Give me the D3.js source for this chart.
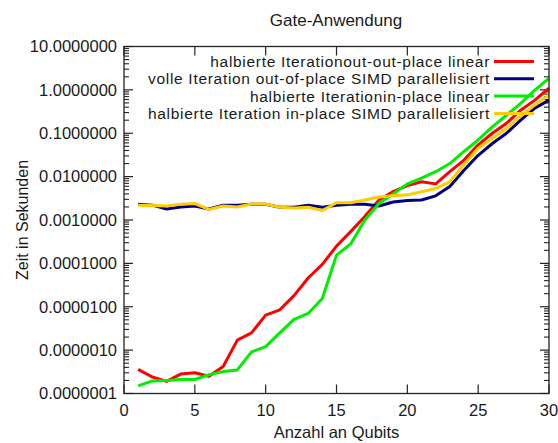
<!DOCTYPE html>
<html>
<head>
<meta charset="utf-8">
<script src="https://cdn.jsdelivr.net/npm/d3@7"></script>
<style>
  body { margin: 0; background: #fff; }
  svg text { font-family: "Liberation Sans", Arial, sans-serif; fill: #1a1a1a; }
</style>
</head>
<body>
<div id="chart"></div>
<script>
// qubit counts
const qubits = d3.range(1, 31);

// seconds per series
const halbOutLinear = [3.6e-7, 2.4e-7, 1.9e-7, 2.8e-7, 3.0e-7, 2.5e-7, 4.2e-7, 1.7e-6, 2.5e-6, 6.4e-6,
    8.5e-6, 1.8e-5, 4.6e-5, 9.5e-5, 2.5e-4, 5.4e-4, 1.2e-3, 2.9e-3, 4.5e-3, 6.2e-3,
    7.6e-3, 6.8e-3, 0.013, 0.024, 0.054, 0.10, 0.17, 0.34, 0.58, 1.09];
const volleOutSimd = [2.3e-3, 2.2e-3, 1.8e-3, 2.0e-3, 2.1e-3, 1.8e-3, 2.2e-3, 2.2e-3, 2.3e-3, 2.3e-3,
    1.96e-3, 1.96e-3, 2.2e-3, 1.96e-3, 2.2e-3, 2.3e-3, 2.3e-3, 2.1e-3, 2.6e-3, 2.8e-3,
    2.9e-3, 3.6e-3, 5.9e-3, 0.014, 0.031, 0.058, 0.10, 0.20, 0.38, 0.58];
const halbInLinear = [1.5e-7, 1.95e-7, 2.0e-7, 2.1e-7, 2.1e-7, 2.7e-7, 3.2e-7, 3.5e-7, 9.1e-7, 1.2e-6,
    2.5e-6, 5.1e-6, 7.0e-6, 1.55e-5, 1.55e-4, 2.8e-4, 1.0e-3, 2.4e-3, 4.0e-3, 6.8e-3,
    9.2e-3, 0.013, 0.020, 0.038, 0.07, 0.14, 0.26, 0.49, 0.99, 1.85];
const halbInSimd = [2.2e-3, 2.15e-3, 2.1e-3, 2.3e-3, 2.4e-3, 1.76e-3, 2.1e-3, 2.0e-3, 2.34e-3, 2.34e-3,
    1.96e-3, 1.9e-3, 1.96e-3, 1.66e-3, 2.5e-3, 2.5e-3, 2.9e-3, 3.4e-3, 3.6e-3, 3.8e-3,
    4.5e-3, 5.3e-3, 7.6e-3, 0.019, 0.045, 0.076, 0.13, 0.25, 0.45, 0.76];

const seriesNames = [
    "halbierte Iterationout-out-place linear",
    "volle Iteration out-of-place SIMD parallelisiert",
    "halbierte Iterationin-place linear",
    "halbierte Iteration in-place SIMD parallelisiert"
];
const seriesColors = ["#ff0000", "#000080", "#00ee00", "#ffcc00"];
const seriesValues = [halbOutLinear, volleOutSimd, halbInLinear, halbInSimd];

const xTicks = [0, 5, 10, 15, 20, 25, 30];
const yTicks = [1e1, 1e0, 1e-1, 1e-2, 1e-3, 1e-4, 1e-5, 1e-6, 1e-7];

const width = 558, height = 443;
const margin = { top: 46.5, right: 9, bottom: 49.5, left: 124 };
const w = width - margin.left - margin.right;
const h = height - margin.top - margin.bottom;

const svg = d3.select("#chart").append("svg")
    .attr("width", width)
    .attr("height", height);

const g = svg.append("g")
    .attr("transform", `translate(${margin.left},${margin.top})`);

const x = d3.scaleLinear().domain([0, 30]).range([0, w]);
const y = d3.scaleLog().domain([1e-7, 10]).range([h, 0]);

// minor ticks for log axis
let minorTicks = [];
for (let e = -7; e < 1; e++) {
    for (let m = 2; m <= 9; m++) minorTicks.push(m * Math.pow(10, e));
}

const tickColor = "#222";

// left / right y ticks (inward)
[[0, 1], [w, -1]].forEach(([px, dir]) => {
    g.selectAll(null).data(yTicks).enter().append("line")
        .attr("x1", px).attr("x2", px + dir * 9)
        .attr("y1", d => y(d)).attr("y2", d => y(d))
        .attr("stroke", tickColor).attr("stroke-width", 1.2);
    g.selectAll(null).data(minorTicks).enter().append("line")
        .attr("x1", px).attr("x2", px + dir * 5)
        .attr("y1", d => y(d)).attr("y2", d => y(d))
        .attr("stroke", tickColor).attr("stroke-width", 1.1);
});

// bottom / top x ticks (inward)
[[h, -1], [0, 1]].forEach(([py, dir]) => {
    g.selectAll(null).data(xTicks).enter().append("line")
        .attr("x1", d => x(d)).attr("x2", d => x(d))
        .attr("y1", py).attr("y2", py + dir * 9)
        .attr("stroke", tickColor).attr("stroke-width", 1.2);
});

// tick labels
g.selectAll(null).data(yTicks).enter().append("text")
    .attr("x", -7)
    .attr("y", d => y(d))
    .attr("dy", "0.35em")
    .attr("text-anchor", "end")
    .style("font-size", "16.5px")
    .text(d => d3.format(".7f")(d));

g.selectAll(null).data(xTicks).enter().append("text")
    .attr("x", d => x(d))
    .attr("y", h + 22)
    .attr("text-anchor", "middle")
    .style("font-size", "16.5px")
    .text(d => d);

// series lines
const line = d3.line()
    .x((d, i) => x(qubits[i]))
    .y(d => y(d));

seriesValues.forEach((vals, k) => {
    g.append("path")
        .datum(vals)
        .attr("d", line)
        .attr("fill", "none")
        .attr("stroke", seriesColors[k])
        .attr("stroke-width", 3)
        .attr("stroke-linejoin", "round");
});

// frame
g.append("rect")
    .attr("width", w).attr("height", h)
    .attr("fill", "none")
    .attr("stroke", tickColor)
    .attr("stroke-width", 1.3);

// legend
const legend = g.append("g").attr("transform", `translate(${w - 59},${15})`);
seriesNames.forEach((name, k) => {
    const row = legend.append("g").attr("transform", `translate(0,${k * 17.3})`);
    row.append("text")
        .attr("x", 0)
        .attr("dy", "0.35em")
        .attr("text-anchor", "end")
        .style("font-size", "15.5px")
        .style("letter-spacing", "0.7px")
        .text(name);
    row.append("line")
        .attr("x1", 4).attr("x2", 44)
        .attr("stroke", seriesColors[k])
        .attr("stroke-width", 3);
});

// titles
svg.append("text")
    .attr("x", 336)
    .attr("y", 26)
    .attr("text-anchor", "middle")
    .style("font-size", "17px")
    .text("Gate-Anwendung");

svg.append("text")
    .attr("x", margin.left + w / 2)
    .attr("y", 438)
    .attr("text-anchor", "middle")
    .style("font-size", "16.5px")
    .text("Anzahl an Qubits");

svg.append("text")
    .attr("transform", `translate(28,${margin.top + h / 2}) rotate(-90)`)
    .attr("text-anchor", "middle")
    .style("font-size", "16px")
    .text("Zeit in Sekunden");
</script>
</body>
</html>
